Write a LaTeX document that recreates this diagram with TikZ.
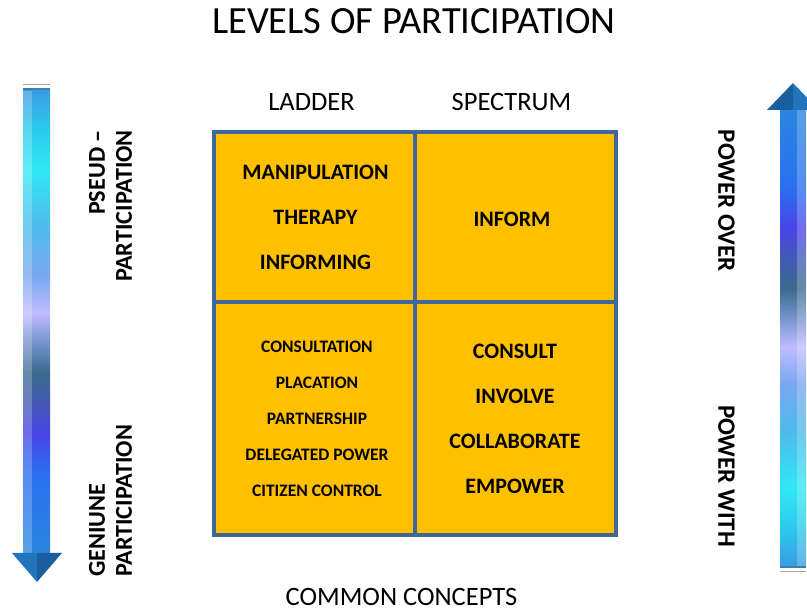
\documentclass[tikz,border=0pt]{standalone}
\usepackage{fontspec}
\setmainfont{Carlito}

\definecolor{cellfill}{HTML}{FFC000}
\definecolor{cellline}{HTML}{41679A}
\definecolor{headblue}{HTML}{2274BC}
\definecolor{headdark}{HTML}{1B5E9E}

\pgfdeclareverticalshading{partbar}{100bp}{%
  color(0bp)=(rgb,255:red,42;green,134;blue,222);
  color(25bp)=(rgb,255:red,42;green,134;blue,222);
  color(33.5bp)=(rgb,255:red,42;green,112;blue,240);
  color(38bp)=(rgb,255:red,74;green,68;blue,230);
  color(41bp)=(rgb,255:red,68;green,88;blue,184);
  color(44.5bp)=(rgb,255:red,58;green,106;blue,140);
  color(47.5bp)=(rgb,255:red,112;green,144;blue,200);
  color(51bp)=(rgb,255:red,192;green,188;blue,255);
  color(55bp)=(rgb,255:red,120;green,168;blue,240);
  color(60bp)=(rgb,255:red,80;green,184;blue,236);
  color(66.5bp)=(rgb,255:red,48;green,232;blue,244);
  color(71bp)=(rgb,255:red,44;green,200;blue,236);
  color(75bp)=(rgb,255:red,58;green,156;blue,228);
  color(100bp)=(rgb,255:red,58;green,156;blue,228)}

\begin{document}
\begin{tikzpicture}
  [x=1pt, y=-1pt,
   every node/.style={inner sep=0pt, text=black},
   cellbox/.style={draw=cellline, fill=cellfill, line width=3.3pt},
   heading/.style={font=\fontsize{26.5}{30}\selectfont},
   bigitem/.style={font=\bfseries\fontsize{22}{24}\selectfont},
   smallitem/.style={font=\bfseries\fontsize{17.5}{20}\selectfont},
   sidelabel/.style={font=\bfseries\fontsize{24.2}{27}\selectfont},
   powerlabel/.style={font=\bfseries\fontsize{25}{28}\selectfont, rotate=-90}]
  \clip (0,0) rectangle (807,612);

  % title and headings
  \node[font=\fontsize{38.5}{42}\selectfont] (title) at (414,21) {LEVELS OF PARTICIPATION};
  \node[heading] (ladder) at (311.5,102) {LADDER};
  \node[heading] (spectrum) at (511.5,102) {SPECTRUM};
  \node[heading] (common) at (401.5,597) {COMMON CONCEPTS};

  % the four cells
  \draw[cellbox] (214,132) rectangle (415,302);
  \draw[cellbox] (415,132) rectangle (616,302);
  \draw[cellbox] (214,302) rectangle (415,535);
  \draw[cellbox] (415,302) rectangle (616,535);

  % ladder, top
  \node[bigitem] (manip) at (315.5,172) {MANIPULATION};
  \node[bigitem] (therapy) at (315.5,217) {THERAPY};
  \node[bigitem] (informing) at (315.5,262.5) {INFORMING};
  % spectrum, top
  \node[bigitem] (inform) at (512,219.5) {INFORM};
  % ladder, bottom
  \node[smallitem] (consultation) at (317,346.5) {CONSULTATION};
  \node[smallitem] (placation) at (317,382.5) {PLACATION};
  \node[smallitem] (partnership) at (317,418.5) {PARTNERSHIP};
  \node[smallitem] (delegated) at (317,455) {DELEGATED POWER};
  \node[smallitem] (citizen) at (317,490.5) {CITIZEN CONTROL};
  % spectrum, bottom
  \node[bigitem] (consult) at (515,351.5) {CONSULT};
  \node[bigitem] (involve) at (515,396.5) {INVOLVE};
  \node[bigitem] (collab) at (515,441.5) {COLLABORATE};
  \node[bigitem] (empower) at (515,486.5) {EMPOWER};

  % side labels
  \node[sidelabel, rotate=90, anchor=east, align=right] (pseudo) at (110.5,130) {PSEUD --\\PARTICIPATION};
  \node[sidelabel, rotate=90, anchor=west, align=left] (genuine) at (110.5,577) {GENIUNE\\PARTICIPATION};
  \node[powerlabel] (powerover) at (726.5,201) {POWER OVER};
  \node[powerlabel] (powerwith) at (726.5,476) {POWER WITH};

  % left arrow, pointing down
  \shade[shading=partbar] (23,91) rectangle (50,553);
  \fill[white, opacity=0.22] (23,91) rectangle (32,553);
  \draw[gray!70, line width=1.2pt] (23,84.5) -- (50,84.5);
  \draw[cellline!80!cyan, line width=2pt] (23,89) -- (50,89);
  \fill[headblue] (12,553) -- (37,582) -- (37,553) -- cycle;
  \fill[headdark] (62,553) -- (37,582) -- (37,553) -- cycle;

  % right arrow, pointing up
  \shade[shading=partbar, shading angle=180] (780,110) rectangle (806,566);
  \fill[white, opacity=0.22] (797,110) rectangle (806,566);
  \draw[cellline!80!cyan, line width=2pt] (780,567) -- (806,567);
  \draw[gray!70, line width=1.2pt] (780,571.5) -- (806,571.5);
  \fill[headdark] (767,110) -- (793,83) -- (793,110) -- cycle;
  \fill[headblue] (819,110) -- (793,83) -- (793,110) -- cycle;
\end{tikzpicture}
\end{document}
